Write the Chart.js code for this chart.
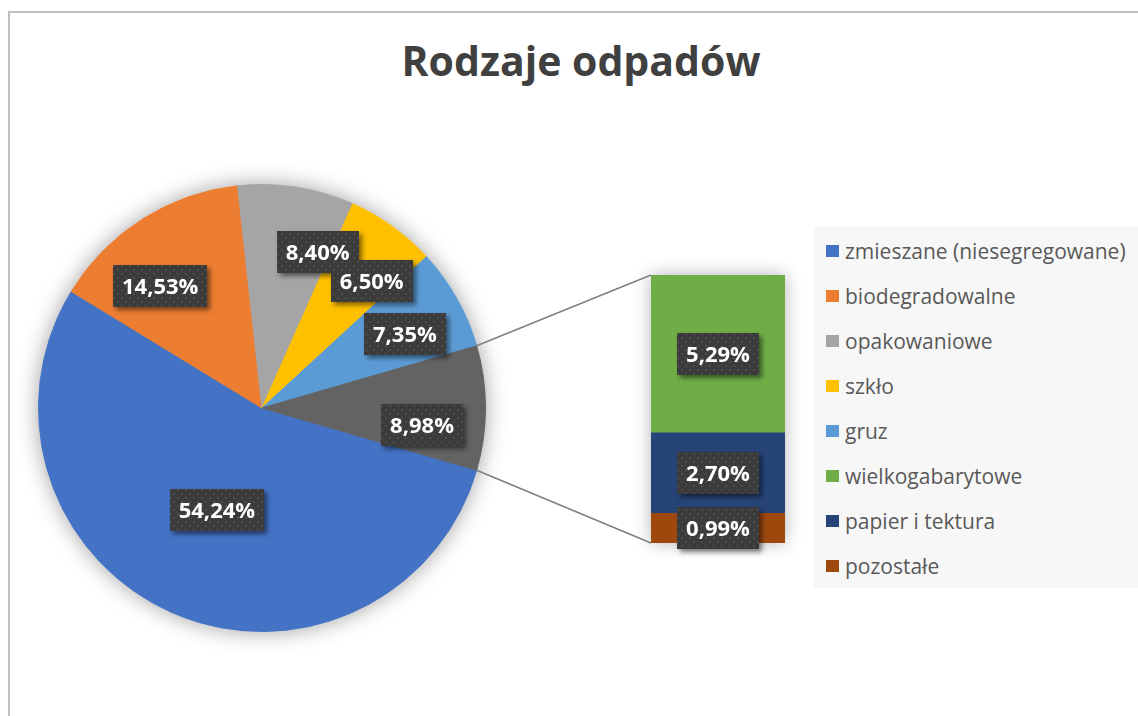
<!DOCTYPE html>
<html lang="pl">
<head>
<meta charset="utf-8">
<title>Rodzaje odpadów</title>
<script src="https://cdn.jsdelivr.net/npm/chart.js@4.4.0/dist/chart.umd.min.js"></script>
<style>
  html, body { margin: 0; padding: 0; background: #fff; }
  #wrap { position: relative; width: 1138px; height: 716px; overflow: hidden; font-family: 'Open Sans', sans-serif; }
  #frame { position: absolute; left: 8px; top: 11px; width: 1200px; height: 800px; border: 2px solid #c0c0c0; }
  #title { position: absolute; left: 0; top: 36px; width: 1162px; text-align: center; font-weight: 700; font-size: 41px; line-height: 48px; color: #404040; }
  #legend { position: absolute; left: 814px; top: 227px; width: 324px; height: 361px; background: #f7f7f7; }
  .item { position: absolute; left: 12px; height: 24px; display: flex; align-items: center; font-size: 21px; color: #595959; white-space: nowrap; }
  .item span { display: inline-block; width: 13px; height: 12px; margin-right: 6px; }
  canvas { position: absolute; left: 0; top: 0; }
</style>
</head>
<body>
<div id="wrap">
  <div id="frame"></div>
  <div id="title">Rodzaje odpadów</div>
  <div id="legend"></div>
  <canvas id="pie" width="1138" height="716"></canvas>
  <canvas id="bar" width="1138" height="716"></canvas>
</div>
<script>
// data, percent of all waste
const pieCategories = ['zmieszane (niesegregowane)', 'biodegradowalne', 'opakowaniowe', 'szkło', 'gruz']
const pieValues = [54.24, 14.53, 8.40, 6.50, 7.35]
const barCategories = ['wielkogabarytowe', 'papier i tektura', 'pozostałe']
const barValues = [5.29, 2.70, 0.99]

const pieColors = ['#4472C4', '#ED7D31', '#A5A5A5', '#FFC000', '#5B9BD5']
const otherColor = '#636363'
const barColors = ['#70AD47', '#264478', '#9E480E']

// label placement in the pie: [fraction of radius, angle shift in degrees]
const pieLabelPos = [[0.50, 0], [0.71, -7.5], [0.74, 10.8], [0.75, 5.2], [0.72, 2], [0.72, 6]]

const otherValue = barValues.reduce((a, b) => a + b, 0)
const pieData = [...pieValues, otherValue]
const total = pieData.reduce((a, b) => a + b, 0)
// the "other" slice sits centred at 3 o'clock, like Excel's bar of pie
const rotation = 90 + 180 * otherValue / total

const fmt = v => v.toFixed(2).replace('.', ',') + '%'

// legend
const legend = document.getElementById('legend')
const legendNames = [...pieCategories, ...barCategories]
const legendColors = [...pieColors, ...barColors]
legendNames.forEach((name, i) => {
  const row = document.createElement('div')
  row.className = 'item'
  row.style.top = (12 + i * 45) + 'px'
  row.innerHTML = '<span style="background:' + legendColors[i] + '"></span>' + name
  legend.appendChild(row)
})

// dotted dark fill used by Excel's label boxes
const tile = document.createElement('canvas')
tile.width = 8
tile.height = 8
const tg = tile.getContext('2d')
tg.fillStyle = '#3b3b3b'
tg.fillRect(0, 0, 8, 8)
tg.fillStyle = '#4d4d4d'
tg.fillRect(1, 1, 2, 2)
tg.fillRect(5, 5, 2, 2)

function drawLabel (ctx, text, x, y) {
  ctx.save()
  ctx.font = '700 22px "Open Sans"'
  const w = Math.round(ctx.measureText(text).width + 18)
  const h = 42
  ctx.shadowColor = 'rgba(0,0,0,0.5)'
  ctx.shadowBlur = 5
  ctx.shadowOffsetX = 3
  ctx.shadowOffsetY = 3
  ctx.fillStyle = ctx.createPattern(tile, 'repeat')
  ctx.fillRect(Math.round(x - w / 2), Math.round(y - h / 2), w, h)
  ctx.shadowColor = 'transparent'
  ctx.fillStyle = '#fff'
  ctx.textAlign = 'center'
  ctx.textBaseline = 'alphabetic'
  ctx.fillText(text, x, y + 8)
  ctx.restore()
}

const pieShadow = {
  id: 'pieShadow',
  beforeDatasetsDraw (chart) {
    const arc = chart.getDatasetMeta(0).data[0]
    const ctx = chart.ctx
    ctx.save()
    ctx.shadowColor = 'rgba(0,0,0,0.38)'
    ctx.shadowBlur = 22
    ctx.fillStyle = '#fff'
    ctx.beginPath()
    ctx.arc(arc.x, arc.y, arc.outerRadius, 0, Math.PI * 2)
    ctx.fill()
    ctx.restore()
  },
}

const pieLabels = {
  id: 'pieLabels',
  afterDatasetsDraw (chart) {
    const meta = chart.getDatasetMeta(0)
    meta.data.forEach((arc, i) => {
      const [f, shift] = pieLabelPos[i]
      const a = (arc.startAngle + arc.endAngle) / 2 + shift * Math.PI / 180
      const r = arc.outerRadius * f
      drawLabel(chart.ctx, fmt(pieData[i]), arc.x + r * Math.cos(a), arc.y + r * Math.sin(a))
    })
  },
}

const pieChart = new Chart(document.getElementById('pie'), {
  type: 'pie',
  data: {
    labels: [...pieCategories, 'Inne'],
    datasets: [{
      data: pieData,
      backgroundColor: [...pieColors, otherColor],
      borderColor: [...pieColors, otherColor],
      borderWidth: 1,
    }],
  },
  options: {
    responsive: false,
    animation: false,
    rotation,
    layout: { padding: { left: 38, right: 652, top: 184, bottom: 84 } },
    plugins: { legend: { display: false }, tooltip: { enabled: false } },
  },
  plugins: [pieShadow, pieLabels],
})

// stacked from the bottom: pozostałe, papier i tektura, wielkogabarytowe
const stackOrder = [2, 1, 0]

const barShadow = {
  id: 'barShadow',
  beforeDatasetsDraw (chart) {
    const bottom = chart.getDatasetMeta(0).data[0]
    const top = chart.getDatasetMeta(stackOrder.length - 1).data[0]
    const ctx = chart.ctx
    ctx.save()
    ctx.shadowColor = 'rgba(0,0,0,0.3)'
    ctx.shadowBlur = 16
    ctx.fillStyle = '#fff'
    ctx.fillRect(top.x - top.width / 2, top.y, top.width, bottom.base - top.y)
    ctx.restore()
  },
}

const seriesLines = {
  id: 'seriesLines',
  afterDatasetsDraw (chart) {
    const other = pieChart.getDatasetMeta(0).data[pieData.length - 1]
    const bottom = chart.getDatasetMeta(0).data[0]
    const top = chart.getDatasetMeta(stackOrder.length - 1).data[0]
    const R = other.outerRadius
    const ctx = chart.ctx
    ctx.save()
    ctx.strokeStyle = '#7f7f7f'
    ctx.lineWidth = 1.5
    ctx.beginPath()
    ctx.moveTo(other.x + R * Math.cos(other.startAngle), other.y + R * Math.sin(other.startAngle))
    ctx.lineTo(top.x - top.width / 2, top.y)
    ctx.moveTo(other.x + R * Math.cos(other.endAngle), other.y + R * Math.sin(other.endAngle))
    ctx.lineTo(bottom.x - bottom.width / 2, bottom.base)
    ctx.stroke()
    ctx.restore()
  },
}

const barLabels = {
  id: 'barLabels',
  afterDatasetsDraw (chart) {
    stackOrder.forEach((k, d) => {
      const el = chart.getDatasetMeta(d).data[0]
      drawLabel(chart.ctx, fmt(barValues[k]), el.x, (el.y + el.base) / 2)
    })
  },
}

new Chart(document.getElementById('bar'), {
  type: 'bar',
  data: {
    labels: [''],
    datasets: stackOrder.map(k => ({
      label: barCategories[k],
      data: [barValues[k]],
      backgroundColor: barColors[k],
      borderWidth: 0,
      categoryPercentage: 1,
      barPercentage: 1,
    })),
  },
  options: {
    responsive: false,
    animation: false,
    layout: { padding: { left: 651, right: 353, top: 275, bottom: 173 } },
    scales: {
      x: { stacked: true, display: false },
      y: { stacked: true, display: false, min: 0, max: otherValue },
    },
    plugins: { legend: { display: false }, tooltip: { enabled: false } },
  },
  plugins: [barShadow, seriesLines, barLabels],
})
</script>
</body>
</html>
